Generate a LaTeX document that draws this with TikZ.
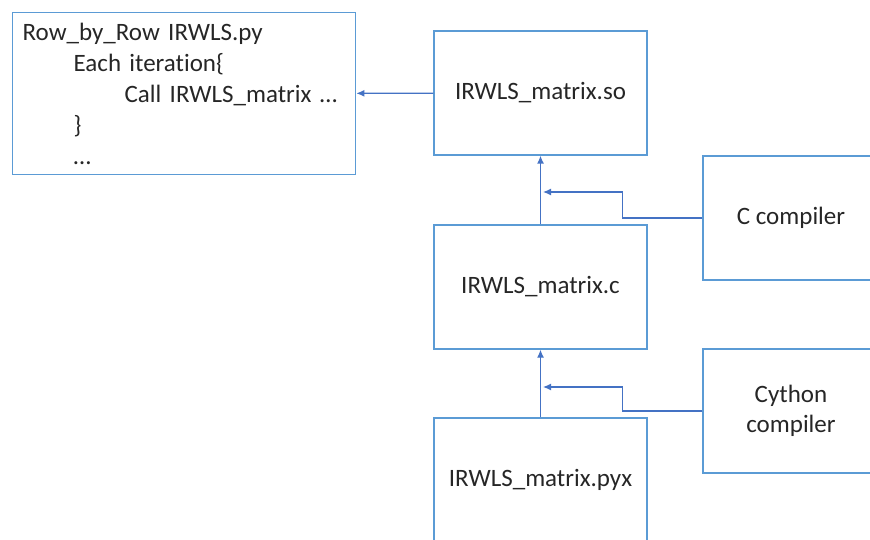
\documentclass[tikz,border=0pt]{standalone}
\usepackage{fontspec}
\setmainfont{Carlito}[Ligatures={NoCommon}]
\usetikzlibrary{arrows.meta}
\definecolor{bordbleu}{HTML}{5B9BD5}
\definecolor{flechebleu}{HTML}{4472C4}
\begin{document}
\begin{tikzpicture}[x=1pt, y=-1pt]
			\tikzset{boite/.style={rectangle, draw=bordbleu, line width=1.3pt, minimum width=213pt, minimum height=124pt, inner sep=0pt, font=\fontsize{25}{30}\selectfont, text=black!85, align=center}, fleche/.style={draw=flechebleu, line width=1.3pt, -{Latex[length=8pt,width=7pt]}}};

			\clip (0,0) rectangle (870,540);

			\node[boite, minimum width=343pt, minimum height=162pt, text width=323pt, inner xsep=10pt, align=left, anchor=north west, font=\fontsize{25}{31}\selectfont] (py) at (12,12) {Row\_by\_Row IRWLS.py\\ \hspace*{51pt}Each iteration\{\\ \hspace*{102pt}Call IRWLS\_matrix \dots\\ \hspace*{51pt}\}\\ \hspace*{51pt}\dots};

			\node[boite] (so)  at (540.5,  93) {IRWLS\_matrix.so};
			\node[boite] (c)   at (540.5, 287) {IRWLS\_matrix.c};
			\node[boite] (pyx) at (540.5, 480) {IRWLS\_matrix.pyx};

			\node[boite, minimum width=176pt] (ccomp) at (791, 218) {C compiler};
			\node[boite, minimum width=176pt] (cycomp) at (791, 411) {Cython\\compiler};

			\coordinate (jonc1) at (543, 192);
			\coordinate (jonc2) at (543, 387);

			\draw[fleche] (so) -- (py);
			\draw[fleche] (c) -- (so);
			\draw[fleche] (pyx) -- (c);
			\draw[fleche] (ccomp.west) -- ++(-80,0) |- (jonc1);
			\draw[fleche] (cycomp.west) -- ++(-80,0) |- (jonc2);

		\end{tikzpicture}
\end{document}
